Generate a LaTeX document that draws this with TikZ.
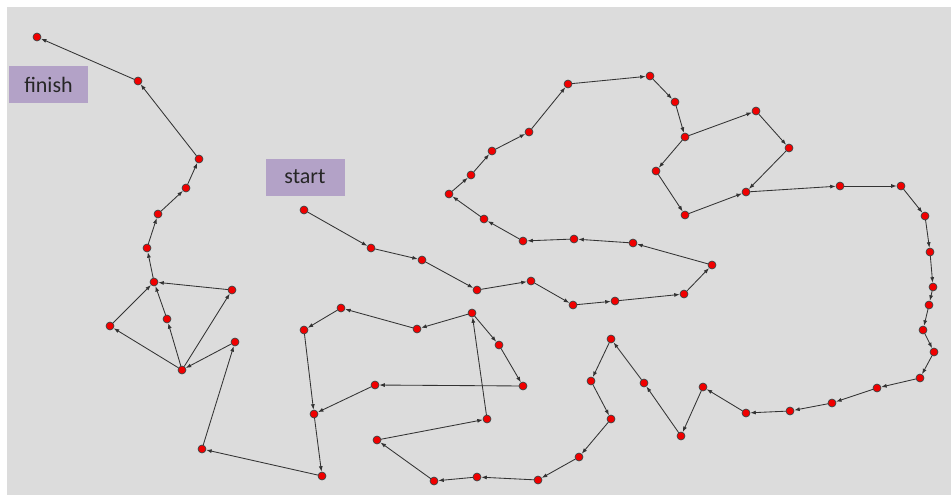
\documentclass[tikz,border=0pt]{standalone}
\usepackage{fontspec}
\setmainfont{Carlito}
\usetikzlibrary{arrows.meta}

\definecolor{panelgray}{HTML}{DCDCDC}
\definecolor{labelpurple}{HTML}{B3A2C7}
\definecolor{cityred}{HTML}{F00000}
\definecolor{cityrim}{HTML}{2A4646}

\begin{document}
\begin{tikzpicture}[
			x=1pt, y=-1pt,
			line cap=round,
			line join=round,
			city/.style={circle, fill=cityred, draw=cityrim, line width=0.6pt, inner sep=0pt, minimum size=8pt},
			leg/.style={draw=black!80, line width=0.85pt, -{Latex[length=5.5pt,width=4pt]}},
			tag/.style={fill=labelpurple, minimum width=79pt, minimum height=37pt, inner sep=0pt, font=\fontsize{22}{26}\selectfont, text=black!85}
			]
			% frame
			\useasboundingbox (0,0) rectangle (951,495);
			\fill[panelgray] (7,7) rectangle (951,495);
			
			% labels
			\node[tag] (finish) at (48.5,84.5) {finish};
			\node[tag] (start) at (305,177) {start};
			
			% cities
			\foreach \n/\x/\y in {1/304/210, 2/371/248, 3/422/260, 4/477/290, 5/531/281,
				6/573/305, 7/615/301, 8/684/294, 9/712/265, 10/633/243,
				11/574/239, 12/523/241, 13/484/219, 14/449/194, 15/471/175,
				16/492/151, 17/529/132, 18/568/84, 19/650/76, 20/675/102,
				21/685/137, 22/656/171, 23/685/215, 24/746/192, 25/756/111,
				26/789/148, 27/840/186, 28/901/186, 29/925/216, 30/930/252,
				31/933/287, 32/929/305, 33/923/330, 34/934/352, 35/920/378,
				36/877/388, 37/832/403, 38/790/411, 39/746/413, 40/703/387,
				41/681/436, 42/644/383, 43/611/339, 44/591/381, 45/611/419,
				46/579/457, 47/538/480, 48/477/477, 49/434/481, 50/377/440,
				51/487/419, 52/472/313, 53/417/329, 54/341/308, 55/304/330,
				56/314/414, 57/322/476, 58/202/449, 59/235/342, 60/182/370,
				61/110/326, 62/167/319, 63/232/290, 64/154/282, 65/147/248,
				66/158/214, 67/186/188, 68/199/159, 69/138/81, 70/37/37,
				71/499/345, 72/523/386, 73/375/385}
			{
				\node[city] (c\n) at (\x,\y) {};
			}
			
			% tour
			\foreach \a/\b in {1/2, 2/3, 3/4, 4/5, 5/6, 6/7, 7/8, 8/9, 9/10, 10/11,
				11/12, 12/13, 13/14, 14/15, 15/16, 16/17, 17/18, 18/19, 19/20, 20/21,
				21/22, 22/23, 23/24, 21/25, 25/26, 26/24, 24/27, 27/28, 28/29, 29/30,
				30/31, 31/32, 32/33, 33/34, 34/35, 35/36, 36/37, 37/38, 38/39, 39/40,
				40/41, 41/42, 42/43, 43/44, 44/45, 45/46, 46/47, 47/48, 48/49, 49/50,
				50/51, 51/52, 52/53, 53/54, 54/55, 55/56, 52/71, 71/72, 72/73, 73/56,
				56/57, 57/58, 58/59, 59/60, 60/61, 61/64, 60/62, 62/64, 60/63, 63/64,
				64/65, 65/66, 66/67, 67/68, 68/69, 69/70}
			{
				\draw[leg] (c\a) -- (c\b);
			}
		\end{tikzpicture}
\end{document}
